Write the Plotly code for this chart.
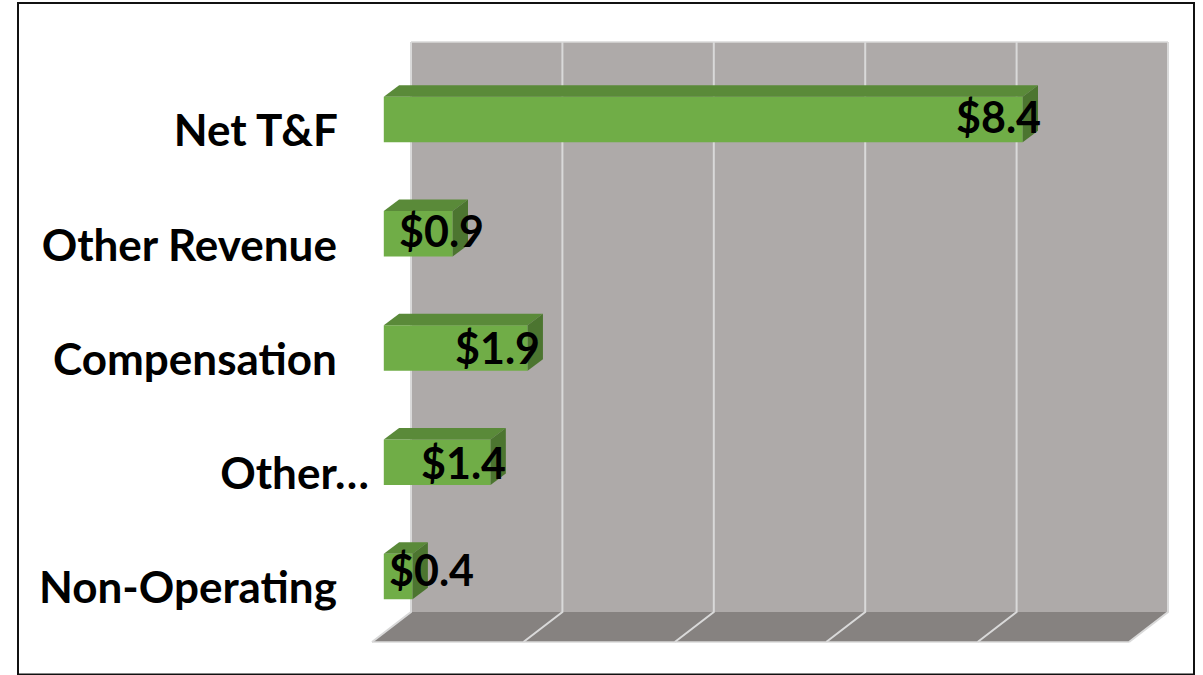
"""3D-look horizontal bar chart of net T&F and other items."""

import plotly.graph_objects as go

CATEGORIES = ["Net T&F", "Other Revenue", "Compensation", "Other...", "Non-Operating"]
TICK_LABELS = ["Net T&F", "Other Revenue", "Compensation", "Other…", "Non-Operating"]
VALUES = [8.44, 0.91, 1.90, 1.41, 0.38]
GRID_VALUES = [0, 2, 4, 6, 8, 10]

WIDTH, HEIGHT = 1203, 675
LEFT = 370  # plot area starts here, tick labels sit left of it
PX_PER_X = 75.7
PX_PER_Y = 114.25
ZERO_PX, FIRST_PX = 383.8, 119.5

FONT = "Lato"
FRONT, TOP, SIDE = "#70ad47", "#5a8a39", "#4c7530"
WALL, FLOOR, GRID = "#aeaaa9", "#868280", "#d9d9d9"

BAR_WIDTH = 0.398
DX, DY = 15.3 / PX_PER_X, 11.6 / PX_PER_Y  # bar depth
WALL_DX = (411 - 372) / PX_PER_X
WALL_DY = (642 - 612) / PX_PER_Y
FLOOR_LEFT = (372 - ZERO_PX) / PX_PER_X
FLOOR_FRONT = (642 - FIRST_PX) / PX_PER_Y
WALL_TOP = (42 - FIRST_PX) / PX_PER_Y

# manual label nudges, in pixels, as in the original
LABEL_SHIFTS = [(-24, -3.5), (-11, -3.5), (-30, -1), (-27, 0), (19, -7)]
TICK_PADDING = [3, 3, 3, 0, 3]


def paper_x(px):
    return (px - LEFT) / (WIDTH - LEFT)


def paper_y(px):
    return 1 - px / HEIGHT


fig = go.Figure()

for i, v in enumerate(VALUES):
    hi, lo = i - BAR_WIDTH / 2, i + BAR_WIDTH / 2
    # top face
    fig.add_trace(
        go.Scatter(
            x=[0, v, v + DX, DX, 0],
            y=[hi, hi, hi - DY, hi - DY, hi],
            fill="toself",
            fillcolor=TOP,
            mode="none",
            hoverinfo="skip",
        )
    )
    # side face
    fig.add_trace(
        go.Scatter(
            x=[v, v + DX, v + DX, v, v],
            y=[hi, hi - DY, lo - DY, lo, hi],
            fill="toself",
            fillcolor=SIDE,
            mode="none",
            hoverinfo="skip",
        )
    )

fig.add_trace(
    go.Bar(
        x=VALUES,
        y=list(range(len(VALUES))),
        orientation="h",
        width=BAR_WIDTH,
        marker=dict(color=FRONT, line=dict(width=0)),
        hovertext=CATEGORIES,
    )
)

# back wall and floor
wall_left = FLOOR_LEFT + WALL_DX
wall_right = wall_left + GRID_VALUES[-1]
wall_bottom = FLOOR_FRONT - WALL_DY
fig.add_shape(
    type="rect",
    x0=wall_left,
    x1=wall_right,
    y0=WALL_TOP,
    y1=wall_bottom,
    fillcolor=WALL,
    line=dict(width=0),
    layer="below",
)
fig.add_shape(
    type="path",
    path=(
        f"M {wall_left} {wall_bottom} L {wall_right} {wall_bottom} "
        f"L {FLOOR_LEFT + GRID_VALUES[-1]} {FLOOR_FRONT} L {FLOOR_LEFT} {FLOOR_FRONT} Z"
    ),
    fillcolor=FLOOR,
    line=dict(width=0),
    layer="below",
)
for g in GRID_VALUES:
    fig.add_shape(
        type="path",
        path=(
            f"M {wall_left + g} {WALL_TOP} L {wall_left + g} {wall_bottom} "
            f"L {FLOOR_LEFT + g} {FLOOR_FRONT}"
        ),
        line=dict(color=GRID, width=2),
        layer="below",
    )
fig.add_shape(
    type="line",
    x0=wall_left,
    x1=wall_right,
    y0=WALL_TOP,
    y1=WALL_TOP,
    line=dict(color=GRID, width=1.5),
    layer="below",
)
fig.add_shape(
    type="line",
    x0=FLOOR_LEFT,
    x1=FLOOR_LEFT + GRID_VALUES[-1],
    y0=FLOOR_FRONT,
    y1=FLOOR_FRONT,
    line=dict(color=GRID, width=1.5),
    layer="below",
)

# chart frame
fig.add_shape(
    type="rect",
    xref="paper",
    yref="paper",
    x0=paper_x(18),
    x1=paper_x(1194),
    y0=paper_y(674.5),
    y1=paper_y(3),
    line=dict(color="#111111", width=2),
)

for i, v in enumerate(VALUES):
    dx, dy = LABEL_SHIFTS[i]
    fig.add_annotation(
        x=v,
        y=i,
        text=f"${v:.1f}",
        showarrow=False,
        xshift=dx,
        yshift=-dy,
        font=dict(family=FONT, size=43, color="black", weight="bold"),
    )

fig.update_xaxes(
    range=[(LEFT - ZERO_PX) / PX_PER_X, (WIDTH - ZERO_PX) / PX_PER_X],
    visible=False,
)
fig.update_yaxes(
    range=[(HEIGHT - FIRST_PX) / PX_PER_Y, -FIRST_PX / PX_PER_Y],
    tickmode="array",
    tickvals=[i + 0.1 for i in range(len(TICK_LABELS))],
    ticktext=[t + "\u00a0" * n for t, n in zip(TICK_LABELS, TICK_PADDING)],
    tickfont=dict(family=FONT, size=44, color="black", weight="bold"),
    showgrid=False,
    zeroline=False,
    showline=False,
    ticks="",
)
fig.update_layout(
    width=WIDTH,
    height=HEIGHT,
    showlegend=False,
    barmode="overlay",
    margin=dict(l=LEFT, r=0, t=0, b=0),
    plot_bgcolor="white",
    paper_bgcolor="white",
)
# the page's default body margin would push the chart 8px off
fig.write_html(
    "out.html",
    config=dict(displayModeBar=False),
    post_script="document.body.style.margin = '0';",
)
